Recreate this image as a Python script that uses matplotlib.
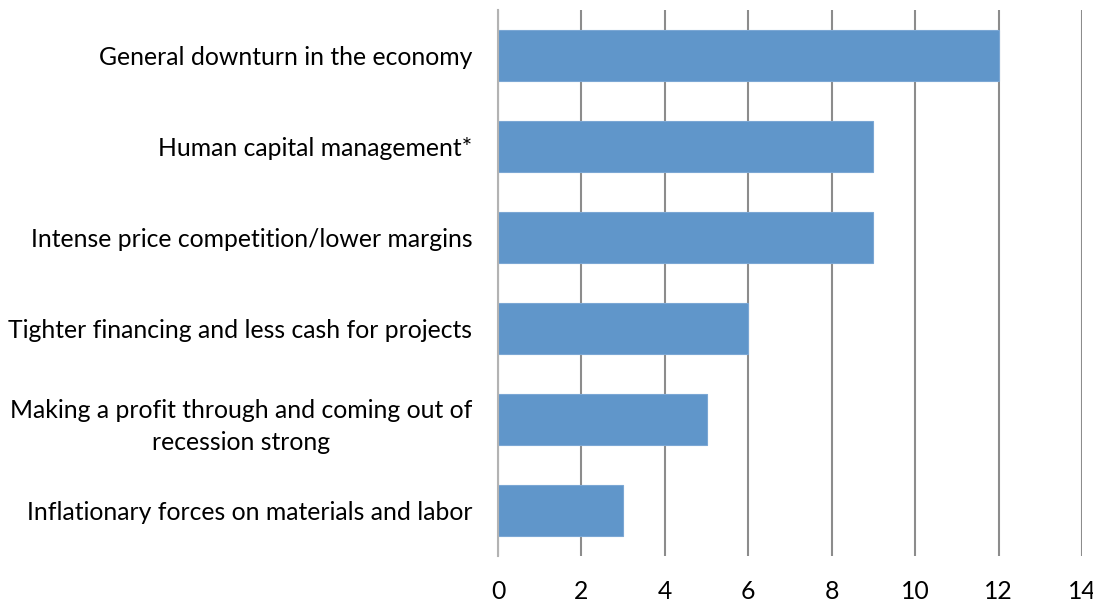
import matplotlib
matplotlib.use("Agg")
import matplotlib.pyplot as plt

categories = [
    "General downturn in the economy",
    "Human capital management*",
    "Intense price competition/lower margins",
    "Tighter financing and less cash for projects",
    "Making a profit through and coming out of\nrecession strong",
    "Inflationary forces on materials and labor",
]
values = [12, 9, 9, 6, 5, 3]
xticks = [0, 2, 4, 6, 8, 10, 12, 14]

plt.rcParams['font.family'] = ['Lato', 'DejaVu Sans']

fig = plt.figure(figsize=(10.93, 6.03), dpi=100)
ax = fig.add_axes([498 / 1093, 1 - 556 / 603, (1082 - 498) / 1093, (556 - 10) / 603])

pos = list(range(len(categories)))
ax.barh(pos, values, height=0.56, color="#6096CA", edgecolor="#7BA7D4", linewidth=0.8, zorder=3)
ax.set_ylim(len(categories) - 0.5, -0.5)
ax.set_xlim(0, 14)
ax.set_xticks(xticks)
ax.set_yticks(pos)
ax.set_yticklabels(categories, fontsize=17.8, linespacing=1.5)
ax.set_xticklabels([str(t) for t in xticks], fontsize=17.8)
ax.tick_params(axis='both', length=0)
ax.tick_params(axis='x', pad=17)
ax.tick_params(axis='y', pad=18.5)
for lbl in ax.get_yticklabels():
    lbl.set_horizontalalignment('right')
    if "\n" in lbl.get_text():
        lbl.set_multialignment('center')
ax.xaxis.grid(True, color="#8C8C8C", linewidth=1.5, zorder=0)
for s in ['top', 'right', 'bottom']:
    ax.spines[s].set_visible(False)
ax.spines['left'].set_color("#B3B3B3")
ax.spines['left'].set_linewidth(1.5)
ax.spines['left'].set_zorder(4)

fig.savefig("out.png", dpi=100)
